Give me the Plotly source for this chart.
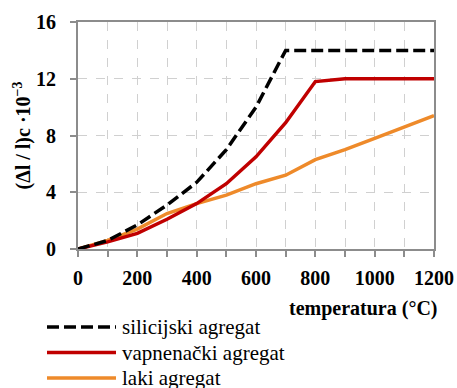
import plotly.graph_objects as go

temps = [0, 100, 200, 300, 400, 500, 600, 700, 800, 900, 1000, 1100, 1200]
silicijski = [0, 0.6, 1.7, 3.1, 4.7, 7.0, 10.0, 14.0, 14.0, 14.0, 14.0, 14.0, 14.0]
vapnenacki = [0, 0.5, 1.1, 2.1, 3.2, 4.6, 6.5, 8.9, 11.8, 12.0, 12.0, 12.0, 12.0]
laki = [0, 0.6, 1.4, 2.5, 3.2, 3.8, 4.6, 5.2, 6.3, 7.0, 7.8, 8.6, 9.4]

names = ["silicijski agregat", "vapnenački agregat", "laki agregat"]
colors = ["#000000", "#C00000", "#EE8A2A"]
dashes = ["12px,5px", "solid", "solid"]
series = [silicijski, vapnenacki, laki]

x_ticks = [0, 200, 400, 600, 800, 1000, 1200]
y_ticks = [0, 4, 8, 12, 16]

FONT = "Liberation Serif, Times New Roman, DejaVu Serif, serif"
LW = 3.5
fig = go.Figure()
for i in [2, 1, 0]:
    fig.add_trace(go.Scatter(x=temps, y=series[i], mode="lines", name=names[i],
                             line=dict(color=colors[i], width=LW, dash=dashes[i]),
                             showlegend=False, hoverinfo="skip"))

# manual legend (plot area: 227 px high, bottom at 249)
PH = 227.0
PW = 356.0
for i, (n, c, d) in enumerate(zip(names, colors, dashes)):
    py = 327 + i * 25.5
    yy = (249 - py) / PH
    fig.add_shape(type="line", xref="paper", yref="paper",
                  x0=(47 - 78) / PW, x1=(116 - 78) / PW, y0=yy, y1=yy,
                  line=dict(color=c, width=LW, dash=d))
    fig.add_annotation(xref="paper", yref="paper", x=(120 - 78) / PW, y=yy, text=n, showarrow=False,
                       xanchor="left", yanchor="middle",
                       font=dict(family=FONT, size=21, color="#000"))

fig.add_annotation(xref="paper", yref="paper", x=(440 - 78) / PW, y=(249 - 308) / PH,
                   text="<b>temperatura (°C)</b>",
                   showarrow=False, xanchor="right", yanchor="middle",
                   font=dict(family=FONT, size=20, color="#000"))

fig.add_annotation(xref="paper", yref="paper", x=(22 - 78) / PW, y=0.5,
                   text="<b>(Δl / l)c ·10<sup>−3</sup></b>", textangle=-90,
                   showarrow=False, xanchor="center", yanchor="middle",
                   font=dict(family=FONT, size=20, color="#000"))

axis_common = dict(showline=True, linecolor="#8c8c8c", linewidth=2, mirror=True,
                   ticks="outside", ticklen=6, tickcolor="#8c8c8c", tickwidth=1.5,
                   showgrid=True, gridcolor="#d0d0d0", griddash="dash", gridwidth=1,
                   zeroline=False, automargin=False,
                   tickfont=dict(family=FONT, size=20, color="#000"))

fig.update_layout(
    width=457, height=388,
    margin=dict(l=78, r=23, t=22, b=139),
    paper_bgcolor="white", plot_bgcolor="white",
    font=dict(family=FONT, size=20, color="#000"),
    hovermode=False,
    xaxis=dict(range=[0, 1200], tickvals=x_ticks, ticktext=[f"<b>{v}</b>" for v in x_ticks],
               minor=dict(dtick=100, tick0=0, ticks="outside", ticklen=6, tickcolor="#8c8c8c",
                          showgrid=True, gridcolor="#d0d0d0", griddash="dash", gridwidth=1),
               ticklabelstandoff=4, **axis_common),
    yaxis=dict(range=[0, 16], tickvals=y_ticks, ticktext=[f"<b>{v}</b>" for v in y_ticks],
               ticklabelstandoff=10, **axis_common),
)
fig.write_html("out.html", config={"displayModeBar": False},
               post_script="document.body.style.margin='0';document.body.style.overflow='hidden';")
